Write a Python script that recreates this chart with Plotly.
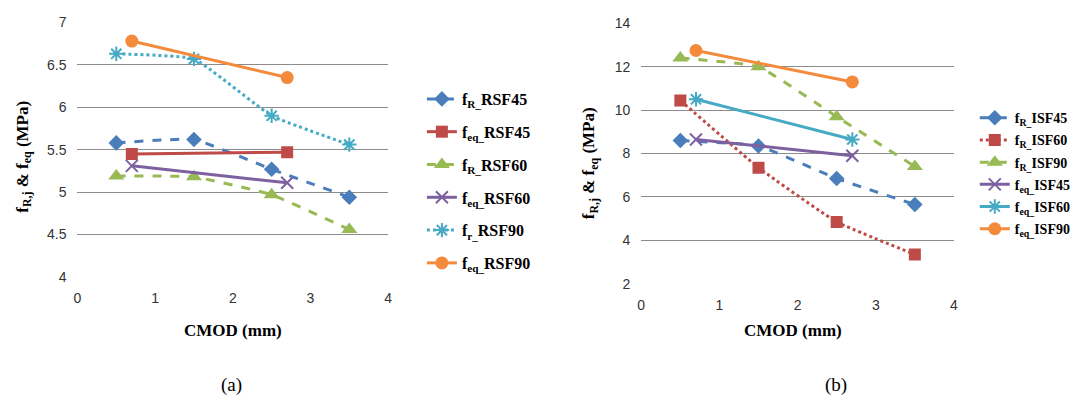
import plotly.graph_objects as go

# ---------- data (a) ----------
x_R = [0.5, 1.5, 2.5, 3.5]
x_eq = [0.7, 2.7]
a_fR_RSF45 = [5.58, 5.62, 5.27, 4.94]
a_feq_RSF45 = [5.45, 5.47]
a_fR_RSF60 = [5.19, 5.18, 4.97, 4.56]
a_feq_RSF60 = [5.31, 5.11]
a_fr_RSF90 = [6.63, 6.57, 5.90, 5.56]
a_feq_RSF90 = [6.78, 6.35]

# ---------- data (b) ----------
b_fR_ISF45 = [8.60, 8.35, 6.85, 5.65]
b_fR_ISF60 = [10.45, 7.35, 4.85, 3.35]
b_fR_ISF90 = [12.40, 12.00, 9.70, 7.40]
b_feq_ISF45 = [8.65, 7.90]
b_feq_ISF60 = [10.50, 8.65]
b_feq_ISF90 = [12.75, 11.30]

BLUE = "#4A7EBB"
RED = "#BE4B48"
GREEN = "#98B954"
PURPLE = "#7D60A0"
CYAN = "#46AAC5"
ORANGE = "#F38A3C"

fig = go.Figure()

def add(x, y, name, color, dash, symbol, size, xa, ya, legend, msize_line=0):
    fig.add_trace(go.Scatter(
        x=x, y=y, name=name, mode="lines+markers",
        line=dict(color=color, width=3, dash=dash, shape="spline", smoothing=0.35),
        marker=dict(symbol=symbol, size=size, color=color,
                    line=dict(color=color, width=msize_line)),
        xaxis=xa, yaxis=ya, legend=legend, legendgroup=name + xa,
    ))

# (a)
add(x_R, a_fR_RSF45, "<b>f<sub>R_</sub>RSF45</b>", BLUE, "dash", "diamond", 12, "x", "y", "legend")
add(x_eq, a_feq_RSF45, "<b>f<sub>eq_</sub>RSF45</b>", RED, "solid", "square", 12, "x", "y", "legend")
add(x_R, a_fR_RSF60, "<b>f<sub>R_</sub>RSF60</b>", GREEN, "dash", "triangle-up", 14, "x", "y", "legend")
add(x_eq, a_feq_RSF60, "<b>f<sub>eq_</sub>RSF60</b>", PURPLE, "solid", "x-thin", 12, "x", "y", "legend", 2)
add(x_R, a_fr_RSF90, "<b>f<sub>r_</sub>RSF90</b>", CYAN, "dot", "asterisk", 12, "x", "y", "legend", 2)
add(x_eq, a_feq_RSF90, "<b>f<sub>eq_</sub>RSF90</b>", ORANGE, "solid", "circle", 13, "x", "y", "legend")

# (b)
add(x_R, b_fR_ISF45, "<b>f<sub>R_</sub>ISF45</b>", BLUE, "dash", "diamond", 12, "x2", "y2", "legend2")
add(x_R, b_fR_ISF60, "<b>f<sub>R_</sub>ISF60</b>", RED, "dot", "square", 12, "x2", "y2", "legend2")
add(x_R, b_fR_ISF90, "<b>f<sub>R_</sub>ISF90</b>", GREEN, "dash", "triangle-up", 14, "x2", "y2", "legend2")
add(x_eq, b_feq_ISF45, "<b>f<sub>eq_</sub>ISF45</b>", PURPLE, "solid", "x-thin", 12, "x2", "y2", "legend2", 2)
add(x_eq, b_feq_ISF60, "<b>f<sub>eq_</sub>ISF60</b>", CYAN, "solid", "asterisk", 12, "x2", "y2", "legend2", 2)
add(x_eq, b_feq_ISF90, "<b>f<sub>eq_</sub>ISF90</b>", ORANGE, "solid", "circle", 13, "x2", "y2", "legend2")

W, H = 1084, 408
tickfont = dict(family="Liberation Sans Narrow, Arial Narrow, sans-serif", size=14, color="#333333")
serif_b = dict(family="Liberation Serif, Times New Roman, serif", size=17, color="#000000")

common_x = dict(range=[0, 4], dtick=1, showgrid=False, zeroline=False, showline=False,
                ticks="", tickfont=tickfont, ticklabelstandoff=11)
common_y = dict(showgrid=True, gridcolor="#8C8C8C", gridwidth=1, zeroline=False,
                showline=False, ticks="", tickfont=tickfont, ticklabelstandoff=10)

fig.update_layout(
    width=W, height=H, margin=dict(l=0, r=0, t=0, b=0),
    paper_bgcolor="white", plot_bgcolor="white",
    xaxis=dict(domain=[74 / W, 387 / W], anchor="y", **common_x),
    yaxis=dict(domain=[(H - 280) / H, (H - 15) / H], anchor="x", range=[4, 7], dtick=0.5, **common_y),
    xaxis2=dict(domain=[642 / W, 957 / W], anchor="y2", **common_x),
    yaxis2=dict(domain=[(H - 287) / H, (H - 16) / H], anchor="x2", range=[2, 14], dtick=2, **common_y),
    legend=dict(x=421 / W, y=(H - 77) / H, xanchor="left", yanchor="top",
                font=dict(family="Liberation Serif, Times New Roman, serif", size=16, color="#000"),
                tracegroupgap=9, bgcolor="rgba(0,0,0,0)"),
    legend2=dict(x=978 / W, y=(H - 98) / H, xanchor="left", yanchor="top",
                 font=dict(family="Liberation Serif, Times New Roman, serif", size=14, color="#000"),
                 tracegroupgap=1, bgcolor="rgba(0,0,0,0)"),
    showlegend=True,
    annotations=[
        dict(text="<b>f<sub>R,j</sub> & f<sub>eq</sub> (MPa)</b>", x=20 / W, y=(H - 155) / H,
             xref="paper", yref="paper", textangle=-90, showarrow=False, font=serif_b,
             xanchor="center", yanchor="middle"),
        dict(text="<b>f<sub>R,j</sub> & f<sub>eq</sub> (MPa)</b>", x=590 / W, y=(H - 162) / H,
             xref="paper", yref="paper", textangle=-90, showarrow=False, font=serif_b,
             xanchor="center", yanchor="middle"),
        dict(text="<b>CMOD (mm)</b>", x=231 / W, y=(H - 336) / H, xref="paper", yref="paper",
             showarrow=False, font=serif_b, xanchor="center", yanchor="middle"),
        dict(text="<b>CMOD (mm)</b>", x=795 / W, y=(H - 336) / H, xref="paper", yref="paper",
             showarrow=False, font=serif_b, xanchor="center", yanchor="middle"),
        dict(text="(a)", x=229 / W, y=(H - 392) / H, xref="paper", yref="paper",
             showarrow=False, font=dict(family="Liberation Serif, serif", size=19, color="#000"),
             xanchor="center", yanchor="middle"),
        dict(text="(b)", x=838 / W, y=(H - 392) / H, xref="paper", yref="paper",
             showarrow=False, font=dict(family="Liberation Serif, serif", size=19, color="#000"),
             xanchor="center", yanchor="middle"),
    ],
)

fig.write_html("out.html")
